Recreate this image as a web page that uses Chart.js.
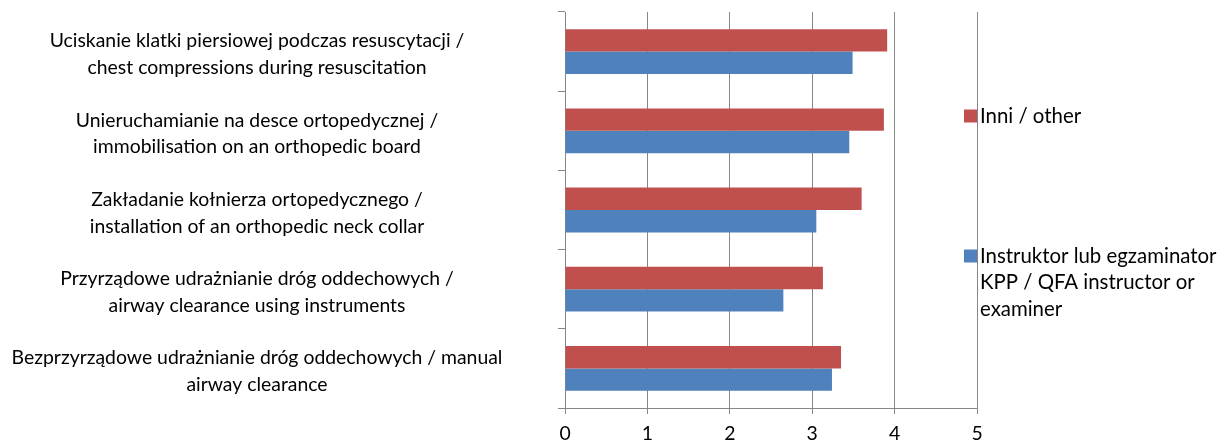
<!DOCTYPE html>
<html>
<head>
<meta charset="utf-8">
<script src="https://cdn.jsdelivr.net/npm/chart.js@4/dist/chart.umd.min.js"></script>
<style>
  html, body { margin: 0; padding: 0; background: #ffffff; }
  #wrap { width: 1225px; height: 446px; position: relative; }
</style>
</head>
<body>
<div id="wrap"><canvas id="c"></canvas></div>
<script>
// Skills (top to bottom), each label split into its display lines
const categories = [
  ["Uciskanie klatki piersiowej podczas resuscytacji /", "chest compressions during resuscitation"],
  ["Unieruchamianie na desce ortopedycznej /", "immobilisation on an orthopedic board"],
  ["Zakładanie kołnierza ortopedycznego /", "installation of an orthopedic neck collar"],
  ["Przyrządowe udrażnianie dróg oddechowych /", "airway clearance using instruments"],
  ["Bezprzyrządowe udrażnianie dróg oddechowych / manual", "airway clearance"]
];

const seriesNames = ["Inni / other", "Instruktor lub egzaminator KPP / QFA instructor or examiner"];
const otherValues = [3.91, 3.87, 3.60, 3.13, 3.35];
const instructorValues = [3.49, 3.45, 3.05, 2.65, 3.24];
const xTicks = [0, 1, 2, 3, 4, 5];

const FONT_FAMILY = "Lato, 'Open Sans', sans-serif";
const LABEL_SIZE = 19.4;
const LEGEND_SIZE = 20.4;
const GRID = '#868686';
const RED = '#C0504D';
const BLUE = '#4F81BD';

// Plot frame on the canvas
const PLOT_LEFT = 565, PLOT_TOP = 12, PLOT_BOTTOM = 408, PLOT_RIGHT = 977;
const LABEL_CENTER_X = 257, TICK_LEN = 7, LABEL_DROP = 3;

// Measure the widest category line so the labels can be centred in their column
const mctx = document.createElement('canvas').getContext('2d');
mctx.font = LABEL_SIZE + 'px ' + FONT_FAMILY;
let widest = 0;
categories.forEach(lines => lines.forEach(l => { widest = Math.max(widest, mctx.measureText(l).width); }));
const leftPad = Math.max(0, LABEL_CENTER_X - widest / 2);
const yLabelPadding = PLOT_LEFT - leftPad - TICK_LEN - widest;

// Legend drawn to the right of the plot, one block per series
const sideLegend = {
  id: 'sideLegend',
  afterDraw(chart, args, opts) {
    const ctx = chart.ctx;
    ctx.save();
    ctx.font = LEGEND_SIZE + 'px ' + FONT_FAMILY;
    ctx.textBaseline = 'middle';
    ctx.textAlign = 'left';
    chart.data.datasets.forEach((ds, i) => {
      const yc = opts.itemY[i];
      const box = 13;
      ctx.fillStyle = ds.backgroundColor;
      ctx.fillRect(chart.chartArea.right - box, yc - box / 2, box, box);
      // word-wrap the series name
      const words = ds.label.split(' ');
      const lines = [];
      let cur = '';
      words.forEach(w => {
        const t = cur ? cur + ' ' + w : w;
        if (ctx.measureText(t).width > opts.maxWidth && cur) { lines.push(cur); cur = w; }
        else cur = t;
      });
      if (cur) lines.push(cur);
      ctx.fillStyle = '#000';
      lines.forEach((ln, k) => {
        ctx.fillText(ln, chart.chartArea.right + 3, yc + k * opts.lineHeight);
      });
    });
    ctx.restore();
  }
};

new Chart(document.getElementById('c'), {
  type: 'bar',
  data: {
    labels: categories,
    datasets: [
      { label: seriesNames[0], data: otherValues, backgroundColor: RED, borderWidth: 0,
        categoryPercentage: 0.566, barPercentage: 1.0 },
      { label: seriesNames[1], data: instructorValues, backgroundColor: BLUE, borderWidth: 0,
        categoryPercentage: 0.566, barPercentage: 1.0 }
    ]
  },
  options: {
    indexAxis: 'y',
    responsive: true,
    maintainAspectRatio: false,
    animation: false,
    layout: { padding: { left: leftPad, top: PLOT_TOP, right: 1225 - PLOT_RIGHT, bottom: 0 } },
    plugins: {
      legend: { display: false },
      tooltip: { enabled: false },
      sideLegend: { itemY: [116, 256], lineHeight: 26.7, maxWidth: 245 }
    },
    scales: {
      x: {
        min: 0, max: 5,
        afterBuildTicks(scale) { scale.ticks = xTicks.map(v => ({ value: v })); },
        afterFit(scale) {
          scale.height = 446 - PLOT_BOTTOM;
          scale.paddingLeft = 0; scale.paddingRight = 0;
        },
        grid: { color: GRID, lineWidth: 1, tickLength: 6, drawOnChartArea: true },
        border: { color: GRID, width: 1 },
        ticks: { color: '#000', font: { family: FONT_FAMILY, size: LABEL_SIZE }, padding: 8 }
      },
      y: {
        afterFit(scale) {
          scale.width = PLOT_LEFT - leftPad;
          scale.paddingTop = 0; scale.paddingBottom = 0;
        },
        afterUpdate(scale) {
          // sit the two-line category labels a little lower than the band centre
          if (scale._dropPatched) return;
          scale._dropPatched = true;
          const base = Object.getPrototypeOf(scale).drawLabels;
          scale.drawLabels = function (area) {
            this.ctx.save();
            this.ctx.translate(0, LABEL_DROP);
            base.call(this, area);
            this.ctx.restore();
          };
        },
        grid: { color: GRID, lineWidth: 1, tickLength: TICK_LEN, drawOnChartArea: false, offset: true },
        border: { color: GRID, width: 1 },
        ticks: {
          color: '#000', crossAlign: 'center', padding: yLabelPadding,
          font: { family: FONT_FAMILY, size: LABEL_SIZE, lineHeight: 1.38 }
        }
      }
    }
  },
  plugins: [sideLegend]
});
</script>
</body>
</html>
